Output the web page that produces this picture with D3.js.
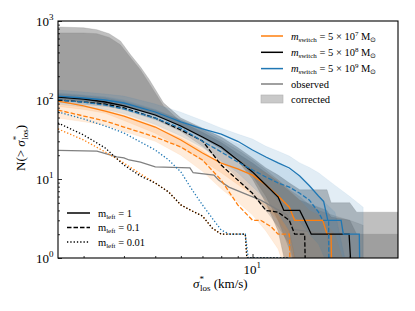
<!DOCTYPE html>
<html><head><meta charset="utf-8">
<script src="https://cdn.jsdelivr.net/npm/d3@7/dist/d3.min.js"></script>
<style>body{margin:0;background:#fff}svg{display:block}text{font-family:"Liberation Serif",serif;fill:#000}</style>
</head><body><svg id="c" width="415" height="311"></svg>
<script>
// ---------------- data ----------------
const xDomain = [2.5, 28.2];
const yDomain = [1, 1000];
const yTickValues = [1, 10, 100, 1000];
const yTickExps = ["0", "1", "2", "3"];
const xTickValues = [10];
const xTickExps = ["1"];

// model lines: m_switch = 5e7 (orange), 5e8 (black), 5e9 (blue); m_left = 1 (solid), 0.1 (dashed), 0.01 (dotted)
const orangeSolidS = [2.5, 3, 3.5, 4, 5, 6, 7, 8, 9, 10, 11, 12, 13, 13.5, 16.5, 17, 17.5, 17.6];
const orangeSolidN = [97, 84, 72.5, 62.7, 45.5, 31.2, 21.3, 15.9, 13.4, 11.2, 8.4, 6.1, 4.4, 3, 3, 2, 2, 0.5];
const orangeDashedS = [2.5, 3, 3.5, 4, 5, 6, 7, 8, 9, 10, 10.6, 11.4, 12, 13, 13.1];
const orangeDashedN = [74.7, 62.7, 54.2, 45.5, 34, 25.4, 17.4, 9.7, 4.7, 3, 3, 2.5, 2, 2, 0.5];
const orangeDottedS = [2.5, 3, 3.5, 4, 4.5, 5, 5.5, 6, 6.5, 7, 7.5, 8, 9.5, 9.6, 13, 13.1];
const orangeDottedN = [43, 31.2, 22, 15.9, 11.6, 8.9, 6.84, 4.7, 3.94, 3.4, 2.4, 2, 2, 1, 1, 0.5];

const blackSolidS = [2.5, 3, 3.5, 4, 5, 6, 7, 8, 9, 10, 11, 12, 12.5, 14, 14.5, 15.2, 19.9, 20.3];
const blackSolidN = [109, 103, 94.3, 84, 64.6, 46.9, 34, 25.4, 17.4, 12.3, 8.4, 5.9, 4, 4, 3, 2, 2, 0.5];
const blackDashedS = [2.5, 3, 3.5, 4, 5, 6, 7, 8, 9, 10, 11, 12, 13, 13.5, 14.5, 14.6];
const blackDashedN = [100, 94.3, 88.9, 79.2, 59.2, 41.7, 30.3, 15, 9.7, 6.6, 4, 3.8, 3, 2, 2, 0.5];
const blackDottedS = [2.5, 3, 3.5, 4, 4.5, 5, 5.5, 6, 6.5, 7, 7.5, 8, 9.5, 9.6, 13, 13.1];
const blackDottedN = [51.2, 36.1, 24.7, 15, 10.9, 8.9, 6.84, 4.7, 3.94, 3.4, 2.4, 2, 2, 1, 1, 0.5];

const blueSolidS = [2.5, 3, 3.5, 4, 5, 6, 7, 8, 9, 10, 11, 12, 13, 14, 15, 16, 16.6, 17.1, 18.8, 19.1, 21.4, 21.5];
const blueSolidN = [112, 106, 100, 91.6, 70.5, 52.7, 43, 37, 30, 23.3, 19, 16, 13.8, 10.9, 8.2, 6.1, 5.2, 3, 3, 2, 2, 0.5];
const blueDashedS = [2.5, 3, 3.5, 4, 5, 6, 7, 8, 9, 10, 11, 12, 13, 14, 15, 16, 16.5, 17.2, 17.25];
const blueDashedN = [100, 94, 86, 77, 59, 44, 30, 22, 16.4, 13, 10.6, 8.9, 7.9, 6.6, 5.4, 3.8, 3, 3, 0.5];
const blueDottedS = [2.5, 3, 3.5, 4, 4.5, 5, 5.5, 6, 6.5, 7, 7.5, 8, 8.5, 9.5, 9.7, 13, 13.1];
const blueDottedN = [70.5, 57.5, 46.9, 38.2, 29.4, 23.3, 17.4, 12.3, 7.3, 4.7, 3.2, 2.26, 2, 2, 1, 1, 0.5];

// shaded bands (lower / upper)
const bandS = [2.5, 3, 3.5, 4, 5, 6, 7, 8, 9, 10, 11, 12, 13, 14, 15, 16, 18, 20, 22, 25, 28.2];
const blueBandHi  = [134, 126, 119, 112, 89, 70, 55, 44, 37, 32, 26, 22.5, 19.5, 16, 14, 12, 8.3, 6, 4.4, 3.6, 3.6];
const blueBandLo  = [100, 92, 86, 75, 56, 41, 30, 22, 17, 12.3, 8.2, 5.4, 3.8, 2.9, 2, 1.5, 0.5, 0.5, 0.5, null, null];
const blueBand2Hi = [123, 116, 110, 100, 76, 56, 43, 34, 28, 23, 19, 16, 13, 10.5, 8, 6, 3.8, 0.5, null, null, null];
const blueBand2Lo = [89, 82, 76, 67, 49, 35, 25, 17, 12, 8, 5.5, 3.7, 2.2, 0.5, 0.5, 0.5, 0.5, 0.5, null, null, null];
const orangeBandHi = [105, 98, 90, 75, 59, 43, 31, 23, 18, 14, 12, 9.7, 7.3, 5.4, 4, 3.5, 2, 0.5, null, null, null];
const orangeBandLo = [83, 76, 68, 55, 38, 25, 17, 12, 8.5, 6.3, 4.4, 3, 1.9, 0.5, 0.5, 0.5, 0.5, 0.5, null, null, null];
const orangeBand2Hi = [89, 82, 75, 62, 45, 33, 23, 15, 10, 6.3, 4.7, 3.5, 2.2, 0.5, null, null, null, null, null, null, null];
const orangeBand2Lo = [59, 53, 48, 40, 30, 20, 12.5, 7.5, 5.1, 3.5, 2.2, 1.3, 0.5, 0.5, null, null, null, null, null, null, null];
const greyBandHi = [119, 113, 107, 96, 74, 56, 42, 31, 23.3, 17.4, 13, 9.7, 7.3, 6, 4.7, 4, 3.4, 3, 2.6, 2.6, null];
const greyBandLo = [92, 88, 83, 76, 57, 40, 26, 16.4, 10.3, 6.3, 4, 2.5, 1.5, 0.5, 0.5, 0.5, 0.5, 0.5, 0.5, null, null];

// "corrected" bands (outer and inner)
const corrS = [2.5, 3, 3.3, 3.6, 3.9, 4.2, 4.5, 4.8, 5.3, 6, 7, 8, 9, 10, 11, 12, 13, 14, 17, 17.5, 20, 21, 28.2];
const corrOuterHi = [840, 820, 775, 690, 560, 370, 262, 179, 92, 59, 44, 34, 25, 18.5, 13.8, 11.2, 8.9, 7.3, 7.3, 5, 5, 3.8, 3.8];
const corrOuterLo = [100, 94, 90, 86, 82, 79, 73, 67, 58, 46, 33, 24, 17, 10, 5, 2.2, 0.5, 0.5, 0.5, 0.5, 0.5, 0.5, 0.5];
const corrInnerHi = [706, 706, 690, 620, 500, 340, 240, 160, 84, 53, 39, 29, 21, 15.9, 12, 9.2, 7, 5.4, 4, 3.3, 3, 2, 2];
const corrInnerLo = [103, 97, 93, 89, 85, 81, 75, 69, 60, 48, 35, 26, 18.5, 11, 6, 3, 1.3, 0.5, 0.5, 0.5, 0.5, 0.5, 0.5];

// observed cumulative distribution
const obsS = [2.5, 3.3, 3.8, 4.0, 4.15, 4.5, 5.0, 6.4, 6.55, 7.6, 7.85, 8.45, 9.5, 10.6, 12.8, 13.4, 17, 17.5, 22, 22.5];
const obsN = [23, 22.5, 19, 18.5, 17.4, 16.4, 14.2, 13.8, 12, 11.2, 9.7, 7.9, 6.5, 5.4, 3.5, 2.3, 2, 1, 1, 0.5];

const legendSwitchExp = ["7", "8", "9"];
const legendLeft = ["1", "0.1", "0.01"];

// ---------------- drawing ----------------
const m = {l: 58, r: 398, t: 21, b: 258};
const svg = d3.select("#c");
const x = d3.scaleLog().domain(xDomain).range([m.l, m.r]);
const y = d3.scaleLog().domain(yDomain).range([m.b, m.t]);

const ORANGE = "#ff7f0e", BLUE = "#1f77b4", BLACK = "#000", GREY = "#808080";

svg.append("clipPath").attr("id", "clip").append("rect")
  .attr("x", m.l).attr("y", m.t).attr("width", m.r - m.l).attr("height", m.b - m.t);
const plot = svg.append("g").attr("clip-path", "url(#clip)");

function band(S, lo, hi, fill, op) {
  const d = S.map((s, i) => ({s, lo: lo[i], hi: hi[i]})).filter(p => p.lo != null && p.hi != null);
  const a = d3.area().x(p => x(p.s)).y0(p => y(p.lo)).y1(p => y(p.hi));
  plot.append("path").attr("d", a(d)).attr("fill", fill).attr("fill-opacity", op)
    .attr("stroke", fill).attr("stroke-opacity", op * 0.8).attr("stroke-width", 0.6);
}
function line(S, N, color, dash, w) {
  const d = S.map((s, i) => [s, N[i]]);
  plot.append("path").attr("d", d3.line().x(p => x(p[0])).y(p => y(p[1]))(d))
    .attr("fill", "none").attr("stroke", color).attr("stroke-width", w || 1.3)
    .attr("stroke-dasharray", dash || null);
}

band(corrS, corrOuterLo, corrOuterHi, GREY, 0.5);
band(corrS, corrInnerLo, corrInnerHi, GREY, 0.5);
band(bandS, orangeBandLo, orangeBandHi, ORANGE, 0.15);
band(bandS, orangeBand2Lo, orangeBand2Hi, ORANGE, 0.15);
band(bandS, greyBandLo, greyBandHi, "#555", 0.2);
band(bandS, blueBandLo, blueBandHi, BLUE, 0.13);
band(bandS, blueBand2Lo, blueBand2Hi, BLUE, 0.13);

line(obsS, obsN, GREY, null, 1.3);
const DASH = "4.5,2", DOT = "1.3,2";
line(orangeSolidS, orangeSolidN, ORANGE);
line(orangeDashedS, orangeDashedN, ORANGE, DASH);
line(orangeDottedS, orangeDottedN, ORANGE, DOT);
line(blackSolidS, blackSolidN, BLACK);
line(blackDashedS, blackDashedN, BLACK, DASH);
line(blackDottedS, blackDottedN, BLACK, DOT);
line(blueSolidS, blueSolidN, BLUE);
line(blueDashedS, blueDashedN, BLUE, DASH);
line(blueDottedS, blueDottedN, BLUE, DOT);

// axes (ticks inward)
const yAxis = d3.axisLeft(y).tickValues(yTickValues).tickSize(-4).tickFormat("");
const yMinor = d3.axisLeft(y).tickValues(d3.range(0, 3).flatMap(e => d3.range(2, 10).map(k => k * Math.pow(10, e)))).tickSize(-2).tickFormat("");
const xMinorVals = [3, 4, 5, 6, 7, 8, 9, 20].filter(v => v >= xDomain[0] && v <= xDomain[1]);
const xAxis = d3.axisBottom(x).tickValues(xTickValues).tickSize(-4).tickFormat("");
const xMinor = d3.axisBottom(x).tickValues(xMinorVals).tickSize(-2).tickFormat("");
[[yAxis, `translate(${m.l},0)`], [yMinor, `translate(${m.l},0)`], [xAxis, `translate(0,${m.b})`], [xMinor, `translate(0,${m.b})`]].forEach(([ax, t]) => {
  const g = svg.append("g").attr("transform", t).call(ax);
  g.select(".domain").remove();
  g.selectAll("line").attr("stroke", "#000").attr("stroke-width", 0.8);
});
svg.append("rect").attr("x", m.l).attr("y", m.t).attr("width", m.r - m.l).attr("height", m.b - m.t)
  .attr("fill", "none").attr("stroke", "#000").attr("stroke-width", 1.1);

// tick labels
yTickValues.forEach((v, i) => {
  const t = svg.append("text").attr("x", m.l - 22).attr("y", y(v) + 5).attr("font-size", 13);
  t.append("tspan").text("10");
  t.append("tspan").attr("dy", -6).attr("font-size", 9).text(yTickExps[i]);
});
xTickValues.forEach((v, i) => {
  const t = svg.append("text").attr("x", x(v) - 9).attr("y", m.b + 16).attr("font-size", 13);
  t.append("tspan").text("10");
  t.append("tspan").attr("dy", -6).attr("font-size", 9).text(xTickExps[i]);
});

// axis labels
const xl = svg.append("text").attr("x", 193).attr("y", 288).attr("font-size", 13);
xl.append("tspan").attr("font-style", "italic").text("σ");
xl.append("tspan").attr("font-size", 9).attr("dy", -6).text("*");
xl.append("tspan").attr("font-size", 9).attr("dx", -4).attr("dy", 9).text("los");
xl.append("tspan").attr("dy", -3).text(" (km/s)");

const yl = svg.append("text").attr("transform", "translate(25,171) rotate(-90)").attr("font-size", 13);
yl.append("tspan").text("N(> ");
yl.append("tspan").attr("font-style", "italic").text("σ");
yl.append("tspan").attr("font-size", 9).attr("dy", -6).text("*");
yl.append("tspan").attr("font-size", 9).attr("dx", -4).attr("dy", 9).text("los");
yl.append("tspan").attr("dy", -3).text(")");

// legend top-right
const lg = svg.append("g");
const legColors = [ORANGE, BLACK, BLUE];
legColors.forEach((c, i) => {
  const yy = 36 + i * 16.3;
  lg.append("line").attr("x1", 261).attr("x2", 283).attr("y1", yy).attr("y2", yy).attr("stroke", c).attr("stroke-width", 1.5);
  const t = lg.append("text").attr("x", 291).attr("y", yy + 3.5).attr("font-size", 10.5);
  t.append("tspan").attr("font-style", "italic").text("m");
  t.append("tspan").attr("font-size", 7).attr("dy", 2).text("switch");
  t.append("tspan").attr("dy", -2).text(" = 5 × 10");
  t.append("tspan").attr("font-size", 7).attr("dy", -4).text(legendSwitchExp[i]);
  t.append("tspan").attr("dy", 4).text(" M");
  t.append("tspan").attr("font-size", 7).attr("dy", 2).text("⊙");
});
lg.append("line").attr("x1", 261).attr("x2", 283).attr("y1", 84).attr("y2", 84).attr("stroke", GREY).attr("stroke-width", 1.5);
lg.append("text").attr("x", 291).attr("y", 87.5).attr("font-size", 10.5).text("observed");
lg.append("rect").attr("x", 261).attr("y", 95).attr("width", 22).attr("height", 8).attr("fill", "#c9c9c9").attr("stroke", "#b0b0b0").attr("stroke-width", 0.6);
lg.append("text").attr("x", 291).attr("y", 102.5).attr("font-size", 10.5).text("corrected");

// legend bottom-left
const ld = [null, DASH, DOT];
legendLeft.forEach((v, i) => {
  const yy = 213 + i * 14.5;
  svg.append("line").attr("x1", 67).attr("x2", 90).attr("y1", yy).attr("y2", yy).attr("stroke", "#000").attr("stroke-width", 1.5).attr("stroke-dasharray", ld[i]);
  const t = svg.append("text").attr("x", 98).attr("y", yy + 3.5).attr("font-size", 10.5);
  t.append("tspan").text("m");
  t.append("tspan").attr("font-size", 7).attr("dy", 2).text("left");
  t.append("tspan").attr("dy", -2).text(" = " + v);
});
</script></body></html>
